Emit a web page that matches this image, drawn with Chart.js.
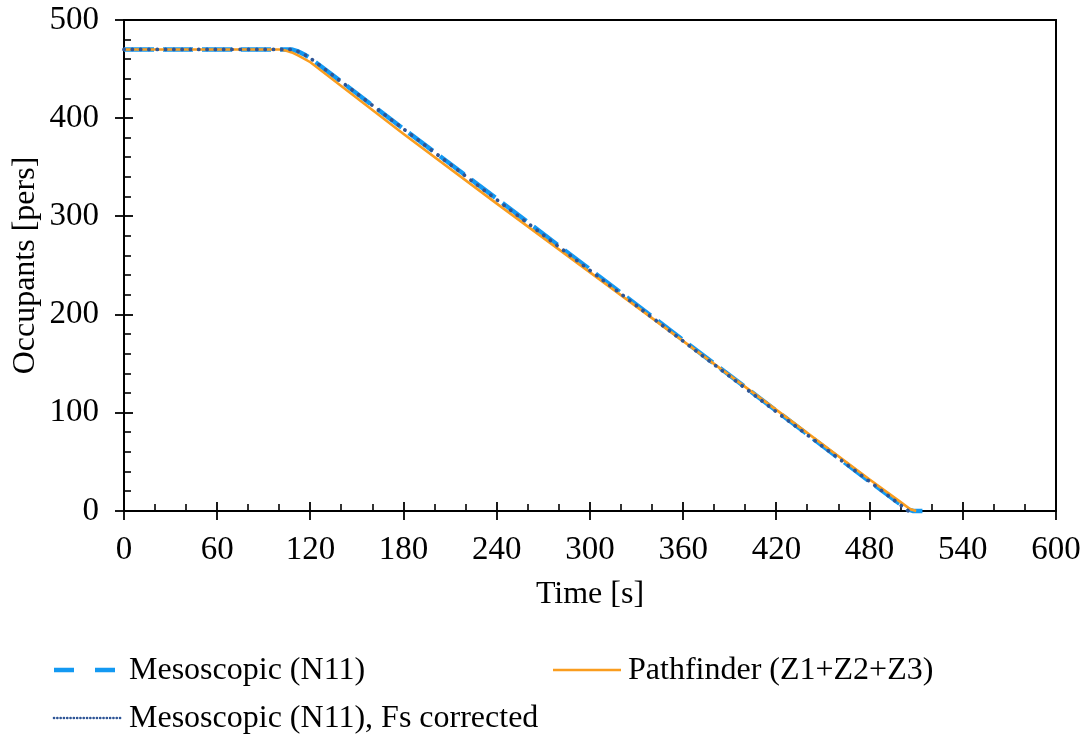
<!DOCTYPE html>
<html>
<head>
<meta charset="utf-8">
<title>Occupants over time</title>
<script src="https://cdn.jsdelivr.net/npm/chart.js@4.4.1/dist/chart.umd.min.js"></script>
<style>
  html, body { margin: 0; padding: 0; background: #ffffff; }
  #wrap { width: 1087px; height: 740px; position: relative; }
</style>
</head>
<body>
<div id="wrap"><canvas id="chart" width="1087" height="740"></canvas></div>
<script>
// Remaining occupants [pers] against time [s]
const MESO_T = [0, 100, 108, 112, 116, 120, 180, 240, 300, 360, 420, 480, 504, 508, 514];
const MESO_N = [470, 470, 470, 468, 465, 461, 389, 318, 246, 174, 102, 30, 2, 0, 0];

const PATH_T = [0, 100, 104, 108, 112, 120, 180, 240, 300, 360, 420, 480, 500, 506, 510];
const PATH_N = [470, 470, 469, 467, 464, 457, 384, 313, 243, 173, 103, 32, 9, 2, 0];

const FS_T = [0, 100, 108, 112, 116, 120, 180, 240, 300, 360, 420, 480, 505];
const FS_N = [470, 470, 470, 468, 465, 461, 389, 317, 245, 173, 101, 30, 0];

const X_TICKS = [0, 60, 120, 180, 240, 300, 360, 420, 480, 540, 600];
const Y_TICKS = [0, 100, 200, 300, 400, 500];
const X_MINOR_STEP = 20;
const Y_MINOR_STEP = 20;

const LABELS = ['Mesoscopic (N11)', 'Pathfinder (Z1+Z2+Z3)', 'Mesoscopic (N11), Fs corrected'];

const FONT = 'Liberation Serif, "Times New Roman", serif';
const FONT_SIZE = 32;
const TICK_SIZE = 33;

const toPoints = (ts, ns) => ts.map((t, i) => ({ x: t, y: ns[i] }));

// Plot frame with major ticks crossing the axes and minor ticks pointing inward
const framePlugin = {
  id: 'frame',
  beforeDatasetsDraw(chart) {
    const { ctx, chartArea: a, scales: { x, y } } = chart;
    ctx.save();
    ctx.strokeStyle = '#000000';
    ctx.lineCap = 'butt';
    const seg = (x1, y1, x2, y2, w) => {
      ctx.lineWidth = w;
      ctx.beginPath(); ctx.moveTo(x1, y1); ctx.lineTo(x2, y2); ctx.stroke();
    };
    // minor ticks
    for (let v = x.min; v <= x.max; v += X_MINOR_STEP) {
      if (X_TICKS.includes(v)) continue;
      const px = Math.round(x.getPixelForValue(v));
      seg(px, a.bottom, px, a.bottom - 7, 1.6);
    }
    for (let v = y.min; v <= y.max; v += Y_MINOR_STEP) {
      if (Y_TICKS.includes(v)) continue;
      const py = Math.round(y.getPixelForValue(v));
      seg(a.left, py, a.left + 7, py, 1.6);
    }
    // major ticks
    X_TICKS.forEach(v => {
      const px = Math.round(x.getPixelForValue(v));
      seg(px, a.bottom - 9, px, a.bottom + 9, 1.8);
    });
    Y_TICKS.forEach(v => {
      const py = Math.round(y.getPixelForValue(v));
      seg(a.left - 9, py, a.left + 9, py, 1.8);
    });
    // frame
    ctx.lineWidth = 2;
    ctx.strokeRect(a.left, a.top, a.right - a.left, a.bottom - a.top);
    ctx.restore();
  }
};

// Legend laid out in two columns below the axis title
const legendPlugin = {
  id: 'sideLegend',
  afterDraw(chart) {
    const { ctx } = chart;
    const slots = [
      { x1: 54, x2: 121, tx: 129, y: 670 },
      { x1: 553, x2: 621, tx: 628, y: 670 },
      { x1: 54, x2: 121, tx: 129, y: 718 }
    ];
    const styles = [
      { width: 4.5, dash: [20, 21], cap: 'butt' },
      { width: 2.6, dash: [], cap: 'butt' },
      { width: 2.6, dash: [0.1, 3.2], cap: 'round' }
    ];
    ctx.save();
    chart.data.datasets.forEach((ds, i) => {
      const s = slots[i], st = styles[i];
      ctx.strokeStyle = ds.borderColor;
      ctx.lineWidth = st.width;
      ctx.lineCap = st.cap;
      ctx.setLineDash(st.dash);
      ctx.beginPath(); ctx.moveTo(s.x1, s.y); ctx.lineTo(s.x2, s.y); ctx.stroke();
      ctx.setLineDash([]);
      ctx.fillStyle = '#000000';
      ctx.font = FONT_SIZE + 'px ' + FONT;
      ctx.textBaseline = 'middle';
      ctx.textAlign = 'left';
      ctx.fillText(ds.label, s.tx, s.y + 1);
    });
    ctx.restore();
  }
};

new Chart(document.getElementById('chart'), {
  type: 'line',
  data: {
    datasets: [
      {
        label: LABELS[0],
        data: toPoints(MESO_T, MESO_N),
        borderColor: '#1399F2',
        borderWidth: 4.5,
        borderDash: [30, 9],
        pointRadius: 0,
        tension: 0,
        order: 3,
        clip: false
      },
      {
        label: LABELS[1],
        data: toPoints(PATH_T, PATH_N),
        borderColor: '#FA9D1E',
        borderWidth: 2.6,
        pointRadius: 0,
        tension: 0,
        order: 2,
        clip: false
      },
      {
        label: LABELS[2],
        data: toPoints(FS_T, FS_N),
        borderColor: '#2E5596',
        borderWidth: 3.8,
        borderDash: [0.1, 8.2],
        borderCapStyle: 'round',
        pointRadius: 0,
        tension: 0,
        order: 1,
        clip: false
      }
    ]
  },
  options: {
    responsive: false,
    animation: false,
    layout: { padding: { top: 20, right: 31, bottom: 126, left: 0 } },
    plugins: { legend: { display: false }, tooltip: { enabled: false } },
    scales: {
      x: {
        type: 'linear',
        min: 0,
        max: 600,
        afterBuildTicks: s => { s.ticks = X_TICKS.map(v => ({ value: v })); },
        afterFit: s => { s.height = 103; s.paddingLeft = 0; s.paddingRight = 0; },
        grid: { display: false },
        border: { display: false },
        ticks: { color: '#000000', font: { family: FONT, size: TICK_SIZE }, padding: 12, maxRotation: 0 },
        title: { display: true, text: 'Time [s]', color: '#000000', font: { family: FONT, size: FONT_SIZE }, padding: 0 }
      },
      y: {
        type: 'linear',
        min: 0,
        max: 500,
        afterBuildTicks: s => { s.ticks = Y_TICKS.map(v => ({ value: v })); },
        afterFit: s => { s.width = 124; s.paddingTop = 0; s.paddingBottom = 0; },
        grid: { display: false },
        border: { display: false },
        ticks: { color: '#000000', font: { family: FONT, size: TICK_SIZE }, padding: 17 },
        title: { display: true, text: 'Occupants [pers]', color: '#000000', font: { family: FONT, size: FONT_SIZE }, padding: { top: 6, bottom: 0 } }
      }
    }
  },
  plugins: [framePlugin, legendPlugin]
});
</script>
</body>
</html>
